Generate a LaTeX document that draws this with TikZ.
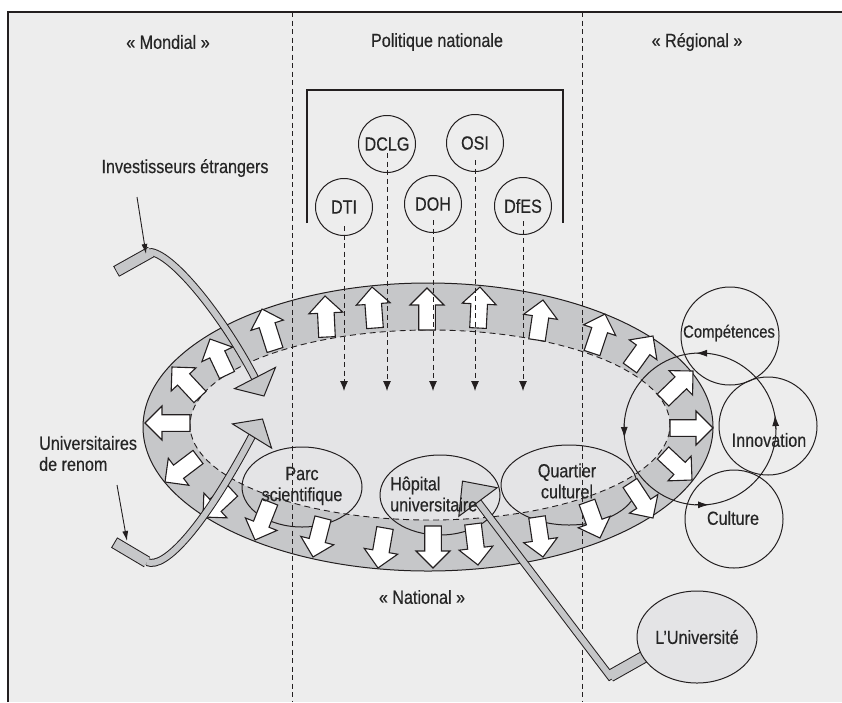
\documentclass[tikz,border=0pt]{standalone}
\usepackage{fontspec}
\setmainfont{Liberation Sans}[FakeStretch=0.85,FakeBold=0.4]
\usetikzlibrary{arrows.meta,shapes.geometric}
\definecolor{bg}{HTML}{EDEDED}
\definecolor{ringc}{HTML}{C6C7C9}
\definecolor{innerc}{HTML}{E4E4E6}
\definecolor{tubegray}{HTML}{C6C7C9}
\definecolor{linec}{HTML}{231F20}
\definecolor{txtc}{HTML}{262626}
\newcommand\ringarrow[4]{%
  \pgfmathsetmacro\rang{atan2(#2-#4,#3-#1)}%
  \pgfmathsetmacro\rlen{veclen(#3-#1,#4-#2)}%
  \pgfmathsetmacro\rneck{\rlen-17}%
  \draw[wharrow,shift={(#1,#2)},rotate=\rang] (0,-8.3) -- (\rneck,-8.3) -- (\rneck,-17) -- (\rlen,0) -- (\rneck,17) -- (\rneck,8.3) -- (0,8.3) -- cycle;}
\tikzset{
  lbl/.style={text=txtc, inner sep=0pt},
  pcirc/.style={circle, draw=linec, line width=1pt, minimum size=57pt, inner sep=0pt, text=txtc},
  rcirc/.style={circle, draw=linec, line width=1pt, minimum size=98pt, inner sep=0pt},
  site/.style={ellipse, draw=linec, line width=1pt, inner sep=0pt},
  divline/.style={draw=linec, line width=0.9pt, dash pattern=on 5pt off 3.5pt},
  polarrow/.style={draw=linec, line width=0.9pt, dash pattern=on 5pt off 3.5pt, -{Latex[length=10pt,width=8pt]}},
  wharrow/.style={fill=white, draw=linec, line width=1.1pt, line join=miter},
  tubeout/.style={draw=linec, line cap=butt},
  tubein/.style={draw=tubegray, line cap=butt},
  headtri/.style={fill=tubegray, draw=linec, line width=1pt, line join=miter},
  ptr/.style={draw=linec, line width=0.9pt, -{Latex[length=10pt,width=6pt]}},
  looparr/.style={draw=linec, line width=0.9pt, -{Latex[length=11pt,width=7pt]}},
}
\begin{document}
\begin{tikzpicture}[x=1pt,y=-1pt,font=\fontsize{19pt}{21pt}\selectfont]
\useasboundingbox (0,0) rectangle (842,702);
% background and frame
\fill[bg] (8,12) rectangle (842,702);
\draw[linec, line width=1.3pt] (8,702) -- (8,12) -- (842,12);
% ring
\fill[ringc] (428,427) ellipse [x radius=285pt, y radius=144pt];
\draw[linec, line width=1pt] (428,427) ellipse [x radius=285pt, y radius=144pt];
\fill[innerc] (430,425) ellipse [x radius=240pt, y radius=95pt];
\draw[linec, line width=0.9pt, dash pattern=on 6pt off 4pt] (430,425) ellipse [x radius=240pt, y radius=95pt];
% dividers
\draw[divline] (292,12) -- (292,702);
\draw[divline] (582,12) -- (582,702);
% site ellipses
\node[site, minimum width=120pt, minimum height=80pt] (parc) at (302,487) {};
\node[site, minimum width=120pt, minimum height=80pt] (hopital) at (440,495) {};
\node[site, minimum width=136pt, minimum height=80pt] (quartier) at (569,485) {};
% regional circles and loop
\node[rcirc] (comp) at (730,336) {};
\node[rcirc] (innov) at (768,426) {};
\node[rcirc] (cult) at (734,519) {};
\node[circle, draw=linec, line width=1pt, minimum size=152pt, inner sep=0pt] (loop) at (700,429) {};
\draw[looparr] (709,353.2) -- (696,353.2);
\draw[looparr] (624.2,424) -- (624.4,438);
\draw[looparr] (695,504.8) -- (709,504.8);
\draw[looparr] (775.8,429) -- (775,415);
% white ring arrows
\ringarrow{427}{330}{427}{288}
\ringarrow{478}{328}{480}{287}
\ringarrow{537}{340}{543}{300}
\ringarrow{592}{353}{605}{314}
\ringarrow{630}{368}{653}{336}
\ringarrow{663}{400}{693}{371}
\ringarrow{670}{428}{713}{428}
\ringarrow{663}{453}{692}{480}
\ringarrow{630}{483}{653}{518}
\ringarrow{587}{502}{600}{538}
\ringarrow{537}{517}{543}{557}
\ringarrow{473}{524}{478}{565}
\ringarrow{433}{526}{433}{568}
\ringarrow{385}{528}{378}{568}
\ringarrow{323}{518}{313}{557}
\ringarrow{270}{502}{255}{540}
\ringarrow{232}{490}{203}{517}
\ringarrow{198}{457}{165}{482}
\ringarrow{190}{423}{145}{423}
\ringarrow{200}{397}{172}{367}
\ringarrow{227}{375}{210}{339}
\ringarrow{275}{350}{262}{309}
\ringarrow{327}{337}{325}{296}
\ringarrow{375}{328}{372}{287}
% connector: Investisseurs etrangers
\coordinate (invS0) at (117,271);
\coordinate (invS1) at (151,252);
\coordinate (invE) at (255,378);
\draw[tubeout, line width=12pt, shorten <=-1pt] (invS0) -- (invS1);
\draw[tubeout, line width=8pt, line join=round] (invS0) -- (invS1) .. controls (175,256) and (225,320) .. (invE);
\draw[tubein, line width=10pt] (invS0) -- (invS1);
\draw[tubein, line width=6pt, line join=round] (invS0) -- (invS1) .. controls (175,256) and (225,320) .. (invE);
\draw[headtri] (275.5,367.4) -- (264,396) -- (234.5,388.6) -- cycle;
% connector: Universitaires de renom
\coordinate (uniS0) at (115,543);
\coordinate (uniS1) at (147,562);
\coordinate (uniE) at (252,436);
\draw[tubeout, line width=12pt, shorten <=-1pt] (uniS0) -- (uniS1);
\draw[tubeout, line width=8pt] (uniS1) .. controls (165,570) and (205,525) .. (uniE);
\draw[tubein, line width=10pt] (uniS0) -- (uniS1);
\draw[tubein, line width=6pt] (uniS1) .. controls (165,570) and (205,525) .. (uniE);
\draw[headtri] (232.4,423.9) -- (262.5,419) -- (271.6,448.1) -- cycle;
% connector: L'Universite
\coordinate (lu0) at (665,645);
\coordinate (luK) at (610,676);
\coordinate (luE) at (478,502);
\draw[tubeout, line width=12.5pt] (lu0) -- (luK);
\draw[tubeout, line width=8pt, line join=miter] (lu0) -- (luK) -- (luE);
\draw[tubein, line width=10.5pt] (lu0) -- (luK);
\draw[tubein, line width=6pt, line join=miter] (lu0) -- (luK) -- (luE);
\draw[headtri] (497.2,487.7) -- (462.5,481.1) -- (458.8,516.3) -- cycle;
\node[ellipse, draw=linec, fill=innerc, line width=1pt, minimum width=120pt, minimum height=92pt, inner sep=0pt, text=txtc] (luniv) at (697,637) {L’Université};
% label pointers
\node[lbl] (invest) at (185,168) {Investisseurs étrangers};
\node[lbl, align=left, anchor=west] (univ) at (39,453.5) {Universitaires\\de renom};
\coordinate (invP) at (137,197);
\coordinate (invT) at (146,254);
\draw[ptr] (invP) -- (invT);
\coordinate (uniP) at (117,485);
\coordinate (uniT) at (127,541);
\draw[ptr] (uniP) -- (uniT);
% national policy
\draw[linec, line width=1.1pt] (307,223) -- (307,90) -- (563,90) -- (563,223);
\node[pcirc] (DCLG) at (387,144) {DCLG};
\node[pcirc] (OSI) at (475,143) {OSI};
\node[pcirc] (DTI) at (344,207) {DTI};
\node[pcirc] (DOH) at (433,204) {DOH};
\node[pcirc] (DfES) at (523,206) {DfES};
\coordinate (eDTI) at (344,391);
\coordinate (eDCLG) at (387,391);
\coordinate (eDOH) at (433,391);
\coordinate (eOSI) at (475,391);
\coordinate (eDfES) at (523,391);
\draw[polarrow] ([yshift=-19pt]DTI.center) -- (eDTI);
\draw[polarrow] ([yshift=-9pt]DCLG.center) -- (eDCLG);
\draw[polarrow] ([yshift=-16pt]DOH.center) -- (eDOH);
\draw[polarrow] ([yshift=-17pt]OSI.center) -- (eOSI);
\draw[polarrow] ([yshift=-15pt]DfES.center) -- (eDfES);
% texts
\node[lbl] (mondial) at (168,42) {«~Mondial~»};
\node[lbl] (politique) at (437,42) {Politique nationale};
\node[lbl] (regional) at (697,42) {«~Régional~»};
\node[lbl] (national) at (422,597) {«~National~»};
\node[lbl, align=center] (parcT) at (302,486) {Parc\\scientifique};
\node[lbl, align=left, anchor=west] (hopT) at (390,494) {Hôpital\\universitaire};
\node[lbl, align=center] (quartT) at (567,481) {Quartier\\culturel};
\node[lbl, font=\fontsize{17.5pt}{20pt}\selectfont] (compT) at (729,333) {Compétences};
\node[lbl] (innovT) at (769,440) {Innovation};
\node[lbl] (cultT) at (733,518) {Culture};
\end{tikzpicture}
\end{document}
